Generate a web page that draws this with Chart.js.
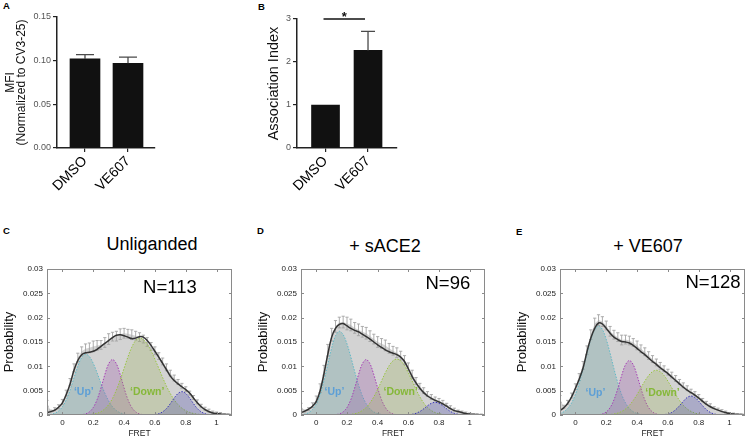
<!DOCTYPE html>
<html lang="en">
<head>
<meta charset="UTF-8">
<title>VE607 / FRET panels</title>
<script src="https://cdn.jsdelivr.net/npm/chart.js@4"></script>
<style>
  body { margin: 0; background: #fff; font-family: 'Liberation Sans', Arial, sans-serif; }
  #page { position: relative; width: 749px; height: 438px; overflow: hidden; }
  .box { position: absolute; }
  .tag { position: absolute; font-weight: bold; font-size: 9.5px; line-height: 1; color: #000; }
  .ttl { position: absolute; font-size: 18px; line-height: 1; color: #000; white-space: nowrap; transform: translate(-50%, -50%); }
</style>
</head>
<body>
<div id="page">
  <div class="tag" style="left:3px; top:1px;">A</div>
  <div class="tag" style="left:258px; top:2px;">B</div>
  <div class="tag" style="left:3px; top:226px;">C</div>
  <div class="tag" style="left:257px; top:226px;">D</div>
  <div class="tag" style="left:516px; top:227px;">E</div>

  <div class="ttl" style="left:152px; top:244px;">Unliganded</div>
  <div class="ttl" style="left:385px; top:246px;">+ sACE2</div>
  <div class="ttl" style="left:648px; top:246px;">+ VE607</div>

  <div class="box" style="left:0; top:0;"><canvas id="chartA" width="160" height="205"></canvas></div>
  <div class="box" style="left:250px; top:0;"><canvas id="chartB" width="160" height="205"></canvas></div>
  <div class="box" style="left:0; top:220px;"><canvas id="chartC" width="245" height="218"></canvas></div>
  <div class="box" style="left:254px; top:220px;"><canvas id="chartD" width="244" height="218"></canvas></div>
  <div class="box" style="left:513px; top:220px;"><canvas id="chartE" width="236" height="218"></canvas></div>
</div>

<script>
Chart.defaults.font.family = "'Liberation Sans', Arial, sans-serif";

// ---- panels A / B ----
const barCats = ['DMSO', 'VE607'];
const mfi = [0.102, 0.097];
const mfiErr = [0.005, 0.007];
const mfiTicks = [0, 0.05, 0.10, 0.15];
const mfiTickLabels = ['0.00', '0.05', '0.10', '0.15'];
const assoc = [1.0, 2.27];
const assocErr = [0, 0.44];
const assocTicks = [0, 1, 2, 3];
const assocTickLabels = ['0', '1', '2', '3'];
const sigLevel = 3.0;

// ---- panels C / D / E ----
const fret = [-0.1, -0.075, -0.05, -0.025, 0, 0.025, 0.05, 0.075, 0.1, 0.125, 0.15, 0.175, 0.2, 0.225, 0.25, 0.275, 0.3, 0.325, 0.35, 0.375, 0.4, 0.425, 0.45, 0.475, 0.5, 0.525, 0.55, 0.575, 0.6, 0.625, 0.65, 0.675, 0.7, 0.725, 0.75, 0.775, 0.8, 0.825, 0.85, 0.875, 0.9, 0.925, 0.95, 0.975, 1, 1.025, 1.05, 1.075, 1.1];
const fretTicks = [0, 0.2, 0.4, 0.6, 0.8, 1];
const fretTickLabels = ['0', '0.2', '0.4', '0.6', '0.8', '1'];
const probTicks = [0, 0.005, 0.01, 0.015, 0.02, 0.025, 0.03];
const probTickLabels = ['0', '0.005', '0.01', '0.015', '0.02', '0.025', '0.03'];

// Unliganded
const histC = [0.0024, 0.0008, 0.0012, 0.0017, 0.0027, 0.0045, 0.0068, 0.0097, 0.0118, 0.0131, 0.0136, 0.0138, 0.0141, 0.0143, 0.0144, 0.0149, 0.0156, 0.0161, 0.0162, 0.0166, 0.0168, 0.0167, 0.0165, 0.0163, 0.0160, 0.0156, 0.0150, 0.0141, 0.0132, 0.0121, 0.0110, 0.0098, 0.0086, 0.0076, 0.0068, 0.0060, 0.0053, 0.0045, 0.0036, 0.0027, 0.0019, 0.0013, 0.0009, 0.0006, 0.0004, 0.0003, 0.0002, 0.0001, 0.0001];
const errC = [0.0006, 0.0002, 0.0003, 0.0004, 0.0005, 0.0006, 0.0007, 0.0008, 0.0009, 0.0009, 0.001, 0.001, 0.0011, 0.001, 0.0009, 0.001, 0.0011, 0.0009, 0.001, 0.0011, 0.001, 0.0009, 0.001, 0.0009, 0.0009, 0.0008, 0.0009, 0.0008, 0.0008, 0.0007, 0.0007, 0.0007, 0.0006, 0.0006, 0.0005, 0.0005, 0.0005, 0.0004, 0.0004, 0.0004, 0.0003, 0.0003, 0.0003, 0.0002, 0.0002, 0.0002, 0.0001, 0.0001, 0.0001];
const fitC = [0.0005, 0.0007, 0.001, 0.0016, 0.0025, 0.0042, 0.0064, 0.0092, 0.0112, 0.0124, 0.0128, 0.0129, 0.0131, 0.0135, 0.0141, 0.0147, 0.0153, 0.0159, 0.0164, 0.0165, 0.0163, 0.016, 0.0157, 0.0158, 0.0161, 0.016, 0.0153, 0.0143, 0.0131, 0.0119, 0.0106, 0.0093, 0.008, 0.0071, 0.0064, 0.0058, 0.0052, 0.0045, 0.0035, 0.0025, 0.0017, 0.0011, 0.0007, 0.0004, 0.0003, 0.0002, 0.0001, 0.0001, 0];
const upC = [0.00005, 0.00014, 0.00036, 0.00082, 0.00169, 0.00311, 0.00514, 0.00759, 0.01001, 0.01183, 0.0125, 0.012, 0.01061, 0.00866, 0.0065, 0.00451, 0.00288, 0.00169, 0.00092, 0.00046, 0.00021, 0.00009, 0.00004, 0, 0, 0, 0, 0, 0, 0, 0, 0, 0, 0, 0, 0, 0, 0, 0, 0, 0, 0, 0, 0, 0, 0, 0, 0, 0];
const midC = [0, 0, 0, 0, 0, 0, 0, 0, 0.00002, 0.00007, 0.00023, 0.00064, 0.00154, 0.00317, 0.00555, 0.00828, 0.01052, 0.0114, 0.01052, 0.00828, 0.00555, 0.00317, 0.00154, 0.00064, 0.00023, 0.00007, 0.00002, 0, 0, 0, 0, 0, 0, 0, 0, 0, 0, 0, 0, 0, 0, 0, 0, 0, 0, 0, 0, 0, 0];
const downC = [0, 0, 0, 0, 0, 0, 0, 0, 0, 0, 0.00003, 0.00008, 0.00018, 0.00036, 0.00069, 0.00126, 0.00213, 0.00341, 0.00514, 0.00724, 0.00959, 0.01193, 0.01394, 0.01531, 0.0158, 0.01548, 0.01458, 0.01319, 0.01147, 0.00959, 0.00769, 0.00593, 0.00439, 0.00313, 0.00213, 0.0014, 0.00089, 0.00054, 0.00031, 0.00018, 0.00009, 0.00005, 0.00002, 0, 0, 0, 0, 0, 0];
const highC = [0, 0, 0, 0, 0, 0, 0, 0, 0, 0, 0, 0, 0, 0, 0, 0, 0, 0, 0, 0, 0, 0, 0, 0, 0, 0, 0, 0.00003, 0.0001, 0.00027, 0.00065, 0.00133, 0.00234, 0.00348, 0.00443, 0.0048, 0.00443, 0.00348, 0.00234, 0.00133, 0.00065, 0.00027, 0.0001, 0.00003, 0, 0, 0, 0, 0];

// + sACE2
const histD = [0.0018, 0.0008, 0.0012, 0.002, 0.0032, 0.0055, 0.0092, 0.0133, 0.0165, 0.0182, 0.019, 0.0191, 0.0188, 0.0185, 0.0179, 0.0175, 0.0171, 0.0168, 0.0162, 0.0156, 0.015, 0.0147, 0.0143, 0.0137, 0.0132, 0.0128, 0.0122, 0.0113, 0.0099, 0.0084, 0.007, 0.0059, 0.005, 0.0043, 0.0037, 0.0033, 0.003, 0.0026, 0.0021, 0.0016, 0.0011, 0.0008, 0.0006, 0.0004, 0.0003, 0.0002, 0.0001, 0.0001, 0];
const errD = [0.0006, 0.0002, 0.0003, 0.0005, 0.0007, 0.0009, 0.001, 0.0012, 0.0013, 0.0012, 0.0011, 0.0012, 0.0013, 0.0012, 0.0011, 0.0012, 0.0011, 0.0012, 0.0011, 0.001, 0.0011, 0.001, 0.0011, 0.001, 0.0009, 0.001, 0.0009, 0.0009, 0.0008, 0.0008, 0.0007, 0.0006, 0.0006, 0.0005, 0.0005, 0.0004, 0.0004, 0.0004, 0.0003, 0.0003, 0.0003, 0.0002, 0.0002, 0.0002, 0.0001, 0.0001, 0.0001, 0.0001, 0];
const fitD = [0.0005, 0.0008, 0.0012, 0.0018, 0.0028, 0.005, 0.0085, 0.0125, 0.016, 0.0178, 0.0186, 0.0188, 0.0183, 0.0178, 0.0174, 0.0171, 0.0166, 0.0161, 0.0156, 0.015, 0.0144, 0.0139, 0.0134, 0.013, 0.0127, 0.0124, 0.0119, 0.011, 0.0095, 0.0079, 0.0066, 0.0055, 0.0046, 0.0039, 0.0034, 0.003, 0.0027, 0.0023, 0.0018, 0.0013, 0.0009, 0.0007, 0.0005, 0.0003, 0.0002, 0.0001, 0.0001, 0, 0];
const upD = [0.00007, 0.00019, 0.00049, 0.00113, 0.00232, 0.00428, 0.00707, 0.01044, 0.01378, 0.01627, 0.0172, 0.01651, 0.0146, 0.01192, 0.00894, 0.00621, 0.00396, 0.00232, 0.00126, 0.00063, 0.00029, 0.00012, 0.00005, 0.00002, 0, 0, 0, 0, 0, 0, 0, 0, 0, 0, 0, 0, 0, 0, 0, 0, 0, 0, 0, 0, 0, 0, 0, 0, 0];
const midD = [0, 0, 0, 0, 0, 0, 0, 0, 0.00002, 0.00007, 0.00023, 0.00064, 0.00154, 0.00317, 0.00555, 0.00828, 0.01052, 0.0114, 0.01052, 0.00828, 0.00555, 0.00317, 0.00154, 0.00064, 0.00023, 0.00007, 0.00002, 0, 0, 0, 0, 0, 0, 0, 0, 0, 0, 0, 0, 0, 0, 0, 0, 0, 0, 0, 0, 0, 0];
const downD = [0, 0, 0, 0, 0, 0, 0, 0, 0, 0, 0, 0.00003, 0.00006, 0.00013, 0.00026, 0.0005, 0.00092, 0.00155, 0.00248, 0.00374, 0.00527, 0.00698, 0.00868, 0.01014, 0.01114, 0.0115, 0.01114, 0.01014, 0.00868, 0.00698, 0.00527, 0.00374, 0.00248, 0.00155, 0.00092, 0.0005, 0.00026, 0.00013, 0.00006, 0.00003, 0, 0, 0, 0, 0, 0, 0, 0, 0];
const highD = [0, 0, 0, 0, 0, 0, 0, 0, 0, 0, 0, 0, 0, 0, 0, 0, 0, 0, 0, 0, 0, 0, 0, 0, 0, 0, 0, 0.00002, 0.00005, 0.00015, 0.00035, 0.00072, 0.00127, 0.00189, 0.0024, 0.0026, 0.0024, 0.00189, 0.00127, 0.00072, 0.00035, 0.00015, 0.00005, 0.00002, 0, 0, 0, 0, 0];

// + VE607
const histE = [0.0033, 0.0017, 0.0026, 0.004, 0.0058, 0.0078, 0.0102, 0.0133, 0.0165, 0.0188, 0.0195, 0.0192, 0.0184, 0.0172, 0.0165, 0.016, 0.0154, 0.0155, 0.0153, 0.0149, 0.0143, 0.0136, 0.013, 0.0122, 0.0115, 0.0108, 0.0101, 0.0095, 0.0088, 0.0082, 0.0075, 0.0068, 0.0061, 0.0055, 0.0049, 0.0044, 0.0038, 0.0031, 0.0025, 0.002, 0.0015, 0.0012, 0.0009, 0.0006, 0.0004, 0.0003, 0.0002, 0.0001, 0.0001];
const errE = [0.0007, 0.0003, 0.0004, 0.0005, 0.0006, 0.0007, 0.0008, 0.0009, 0.001, 0.0011, 0.0011, 0.001, 0.0009, 0.001, 0.0009, 0.0009, 0.001, 0.0009, 0.0009, 0.0008, 0.0009, 0.0008, 0.0008, 0.0008, 0.0007, 0.0007, 0.0007, 0.0006, 0.0006, 0.0006, 0.0006, 0.0005, 0.0005, 0.0005, 0.0004, 0.0004, 0.0004, 0.0003, 0.0003, 0.0003, 0.0002, 0.0002, 0.0002, 0.0002, 0.0001, 0.0001, 0.0001, 0.0001, 0.0001];
const fitE = [0.0009, 0.0015, 0.0024, 0.0037, 0.0055, 0.0074, 0.0097, 0.013, 0.0158, 0.0178, 0.0189, 0.0187, 0.0178, 0.0168, 0.016, 0.0155, 0.0151, 0.015, 0.0148, 0.0143, 0.0137, 0.013, 0.0124, 0.0117, 0.011, 0.0104, 0.0097, 0.0091, 0.0085, 0.0078, 0.0071, 0.0064, 0.0057, 0.0051, 0.0046, 0.0041, 0.0035, 0.0028, 0.0022, 0.0017, 0.0013, 0.001, 0.0007, 0.0005, 0.0003, 0.0002, 0.0001, 0.0001, 0];
const upE = [0.00031, 0.00067, 0.00134, 0.00247, 0.00421, 0.00661, 0.00952, 0.01268, 0.01554, 0.01757, 0.0183, 0.01757, 0.01554, 0.01268, 0.00952, 0.00661, 0.00421, 0.00247, 0.00134, 0.00067, 0.00031, 0.00013, 0.00005, 0.00002, 0, 0, 0, 0, 0, 0, 0, 0, 0, 0, 0, 0, 0, 0, 0, 0, 0, 0, 0, 0, 0, 0, 0, 0, 0];
const midE = [0, 0, 0, 0, 0, 0, 0, 0, 0, 0.00002, 0.00007, 0.00022, 0.00063, 0.00151, 0.00311, 0.00545, 0.00813, 0.01034, 0.0112, 0.01034, 0.00813, 0.00545, 0.00311, 0.00151, 0.00063, 0.00022, 0.00007, 0.00002, 0, 0, 0, 0, 0, 0, 0, 0, 0, 0, 0, 0, 0, 0, 0, 0, 0, 0, 0, 0, 0];
const downE = [0, 0, 0, 0, 0, 0, 0, 0, 0, 0, 0, 0.00002, 0.00005, 0.0001, 0.00021, 0.0004, 0.00073, 0.00124, 0.00199, 0.00299, 0.00421, 0.00558, 0.00695, 0.00811, 0.00891, 0.0092, 0.00891, 0.00811, 0.00695, 0.00558, 0.00421, 0.00299, 0.00199, 0.00124, 0.00073, 0.0004, 0.00021, 0.0001, 0.00005, 0.00002, 0, 0, 0, 0, 0, 0, 0, 0, 0];
const highE = [0, 0, 0, 0, 0, 0, 0, 0, 0, 0, 0, 0, 0, 0, 0, 0, 0, 0, 0, 0, 0, 0, 0, 0, 0, 0, 0.00002, 0.00008, 0.00022, 0.00053, 0.00108, 0.0019, 0.00283, 0.0036, 0.0039, 0.0036, 0.00283, 0.0019, 0.00108, 0.00053, 0.00022, 0.00008, 0.00002, 0, 0, 0, 0, 0, 0];

// error bars on top of the black bars
const barErr = {
    id: 'barErr',
    afterDatasetsDraw(chart, args, opts) {
        const { ctx, scales: { y } } = chart;
        const ds = chart.data.datasets[0];
        const meta = chart.getDatasetMeta(0);
        ctx.save();
        ctx.strokeStyle = '#4a4a4a';
        ctx.lineWidth = 1.3;
        meta.data.forEach((bar, i) => {
            const e = ds.errors[i];
            if (!e) return;
            const top = y.getPixelForValue(ds.data[i].y + e);
            ctx.beginPath();
            ctx.moveTo(bar.x, bar.y);
            ctx.lineTo(bar.x, top);
            ctx.moveTo(bar.x - opts.cap, top);
            ctx.lineTo(bar.x + opts.cap, top);
            ctx.stroke();
        });
        ctx.restore();
    }
};

// significance bracket for panel B
const sigMark = {
    id: 'sigMark',
    afterDraw(chart) {
        const { ctx, scales: { x, y } } = chart;
        const yy = y.getPixelForValue(sigLevel);
        const x1 = x.getPixelForValue(1) - 2, x2 = x.getPixelForValue(2) - 3;
        ctx.save();
        ctx.strokeStyle = '#111';
        ctx.lineWidth = 1.3;
        ctx.beginPath();
        ctx.moveTo(x1, yy);
        ctx.lineTo(x2, yy);
        ctx.stroke();
        ctx.fillStyle = '#111';
        ctx.font = 'bold 13px "Liberation Sans", Arial, sans-serif';
        ctx.textAlign = 'center';
        ctx.textBaseline = 'alphabetic';
        ctx.fillText('*', (x1 + x2) / 2, yy + 2);
        ctx.restore();
    }
};

function barChart(id, values, errs, ticks, tickLabels, yTitle, yMax, xMin, xMax, pad, barW, capW, titleFont, titlePad, axisW) {
    return new Chart(document.getElementById(id), {
        type: 'bar',
        data: {
            datasets: [{
                data: barCats.map((c, i) => ({ x: i + 1, y: values[i] })),
                errors: errs,
                backgroundColor: '#111',
                barThickness: barW
            }]
        },
        options: {
            responsive: false,
            animation: false,
            layout: { padding: pad },
            plugins: { legend: { display: false }, tooltip: { enabled: false }, barErr: { cap: capW } },
            scales: {
                x: {
                    type: 'linear', min: xMin, max: xMax, offset: false,
                    afterBuildTicks: s => { s.ticks = barCats.map((c, i) => ({ value: i + 1 })); },
                    afterFit: s => { s.height = 57; },
                    ticks: { callback: (v, i) => barCats[i], minRotation: 45, maxRotation: 45, autoSkip: false, font: { size: 14 }, color: '#000', padding: 1 },
                    grid: { offset: false, drawOnChartArea: false, drawTicks: true, tickLength: 4, color: '#222', lineWidth: 1.2 },
                    border: { color: '#222', width: 1.5 }
                },
                y: {
                    min: 0, max: yMax,
                    afterBuildTicks: s => { s.ticks = ticks.map(v => ({ value: v })); },
                    afterFit: s => { s.width = axisW; },
                    ticks: { callback: (v, i) => tickLabels[i], font: { size: 9 }, color: '#555', padding: 2 },
                    grid: { drawOnChartArea: false, drawTicks: true, tickLength: 4, color: '#222', lineWidth: 1.2 },
                    border: { color: '#222', width: 1.5 },
                    title: { display: true, text: yTitle, color: '#111', font: titleFont, padding: { top: titlePad, bottom: 0 } }
                }
            }
        },
        plugins: id === 'chartB' ? [barErr, sigMark] : [barErr]
    });
}

barChart('chartA', mfi, mfiErr, mfiTicks, mfiTickLabels, ['MFI', '(Normalized to CV3-25)'], 0.15, 0.349, 2.628,
    { top: 17, right: 5 }, 30, 9, { size: 12, lineHeight: 0.85 }, 6, 57);
barChart('chartB', assoc, assocErr, assocTicks, assocTickLabels, 'Association Index', 3, 0.329, 2.682,
    { top: 19, right: 13 }, 28, 7, { size: 14.5 }, 15, 47);

// ---- FRET histogram panels ----
const histErr = {
    id: 'histErr',
    afterDatasetDraw(chart, args) {
        const ds = chart.data.datasets[args.index];
        if (!ds.errors) return;
        const { ctx, chartArea: a, scales: { x, y } } = chart;
        ctx.save();
        ctx.beginPath();
        ctx.rect(a.left, a.top, a.width, a.height);
        ctx.clip();
        ctx.strokeStyle = '#a4a4a4';
        ctx.lineWidth = 0.9;
        ctx.beginPath();
        ds.data.forEach((p, i) => {
            const px = x.getPixelForValue(p.x);
            const lo = y.getPixelForValue(p.y - ds.errors[i]);
            const hi = y.getPixelForValue(p.y + ds.errors[i]);
            ctx.moveTo(px, lo); ctx.lineTo(px, hi);
            ctx.moveTo(px - 1.6, lo); ctx.lineTo(px + 1.6, lo);
            ctx.moveTo(px - 1.6, hi); ctx.lineTo(px + 1.6, hi);
        });
        ctx.stroke();
        ctx.restore();
    }
};

const frameNotes = {
    id: 'frameNotes',
    afterDatasetsDraw(chart, args, o) {
        const { ctx, chartArea: a, scales: { x, y } } = chart;
        ctx.save();
        // labels of the two states
        ctx.font = 'bold 10.5px "Liberation Sans", Arial, sans-serif';
        ctx.textAlign = 'center';
        ctx.textBaseline = 'middle';
        ctx.fillStyle = '#5d9fd6';
        ctx.fillText('\u2018Up\u2019', x.getPixelForValue(o.up[0]), y.getPixelForValue(o.up[1]));
        ctx.fillStyle = '#86b83a';
        ctx.fillText('\u2018Down\u2019', x.getPixelForValue(o.down[0]), y.getPixelForValue(o.down[1]));
        // N
        ctx.font = '18.5px "Liberation Sans", Arial, sans-serif';
        ctx.textAlign = 'left';
        ctx.fillStyle = '#000';
        ctx.fillText(o.n, x.getPixelForValue(o.nAt[0]), y.getPixelForValue(o.nAt[1]));
        // box with inward ticks
        ctx.strokeStyle = '#8a8a8a';
        ctx.lineWidth = 1;
        ctx.strokeRect(a.left + 0.5, a.top + 0.5, a.width - 1, a.height - 1);
        ctx.beginPath();
        x.ticks.forEach(t => {
            const px = Math.round(x.getPixelForValue(t.value)) + 0.5;
            ctx.moveTo(px, a.bottom); ctx.lineTo(px, a.bottom - 3);
            ctx.moveTo(px, a.top); ctx.lineTo(px, a.top + 3);
        });
        y.ticks.forEach(t => {
            const py = Math.round(y.getPixelForValue(t.value)) + 0.5;
            ctx.moveTo(a.left, py); ctx.lineTo(a.left + 3, py);
            ctx.moveTo(a.right, py); ctx.lineTo(a.right - 3, py);
        });
        ctx.stroke();
        ctx.restore();
    }
};

function fretChart(id, hist, err, fit, up, mid, down, high, notes, rightPad) {
    const pts = arr => fret.map((x, i) => ({ x, y: arr[i] }));
    const comp = (arr, line, fillCol) => ({
        data: pts(arr), borderColor: line, borderWidth: 1, borderDash: [1.5, 1.5],
        backgroundColor: fillCol, fill: 'origin', tension: 0.35, pointRadius: 0
    });
    return new Chart(document.getElementById(id), {
        type: 'line',
        data: {
            datasets: [
                { data: pts(fit), borderColor: '#333', borderWidth: 1.5, fill: false, tension: 0.35, pointRadius: 0 },
                comp(high, '#3a36b8', 'rgba(70,70,170,0.28)'),
                comp(down, '#98c43e', 'rgba(150,175,80,0.26)'),
                comp(mid, '#a53cb5', 'rgba(150,80,165,0.28)'),
                comp(up, '#5fb8c6', 'rgba(90,150,150,0.28)'),
                { data: pts(hist), errors: err, borderWidth: 0, backgroundColor: 'rgba(150,150,150,0.42)', fill: 'origin', tension: 0, pointRadius: 0 }
            ]
        },
        options: {
            responsive: false,
            animation: false,
            layout: { padding: { top: 49, right: rightPad } },
            plugins: { legend: { display: false }, tooltip: { enabled: false }, frameNotes: notes },
            scales: {
                x: {
                    type: 'linear', min: -0.1, max: 1.1,
                    afterBuildTicks: s => { s.ticks = fretTicks.map(v => ({ value: v })); },
                    afterFit: s => { s.height = 23; },
                    ticks: { callback: (v, i) => fretTickLabels[i], font: { size: 8 }, color: '#222', padding: 3, maxRotation: 0 },
                    grid: { display: false, drawTicks: false },
                    border: { display: false },
                    title: { display: true, text: 'FRET', color: '#222', font: { size: 8.5, lineHeight: 1 }, padding: { top: 0, bottom: 0 } }
                },
                y: {
                    min: 0, max: 0.03,
                    afterBuildTicks: s => { s.ticks = probTicks.map(v => ({ value: v })); },
                    afterFit: s => { s.width = 47; },
                    ticks: { callback: (v, i) => probTickLabels[i], font: { size: 8 }, color: '#222', padding: 4 },
                    grid: { display: false, drawTicks: false },
                    border: { display: false },
                    title: { display: true, text: 'Probability', color: '#111', font: { size: 13 }, padding: { top: 2, bottom: 0 } }
                }
            }
        },
        plugins: [histErr, frameNotes]
    });
}

fretChart('chartC', histC, errC, fitC, upC, midC, downC, highC,
    { n: 'N=113', nAt: [0.523, 0.0261], up: [0.139, 0.0047], down: [0.55, 0.0047] }, 13);
fretChart('chartD', histD, errD, fitD, upD, midD, downD, highD,
    { n: 'N=96', nAt: [0.712, 0.0269], up: [0.118, 0.0047], down: [0.55, 0.0047] }, 13);
fretChart('chartE', histE, errE, fitE, upE, midE, downE, highE,
    { n: 'N=128', nAt: [0.714, 0.0271], up: [0.13, 0.0045], down: [0.565, 0.0045] }, 4);
</script>
</body>
</html>
